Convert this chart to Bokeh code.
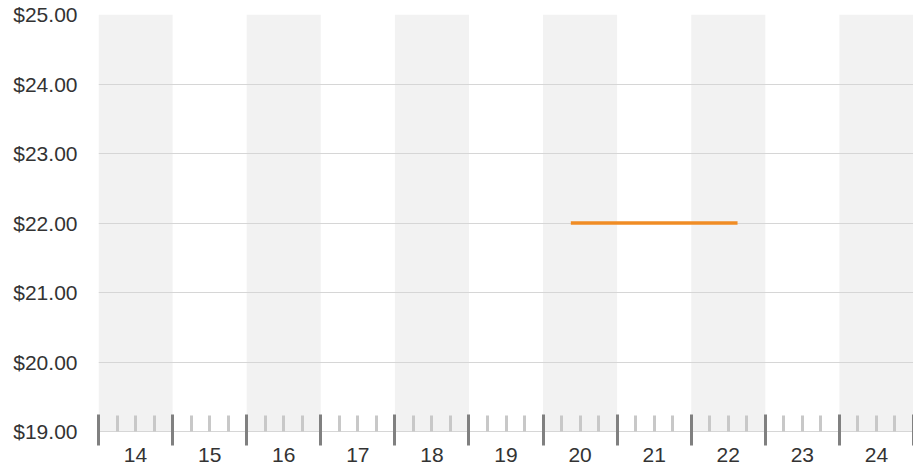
from bokeh.plotting import figure
from bokeh.models import (FixedTicker, LinearAxis, NumeralTickFormatter, Range1d,
                          ColumnDataSource)
from bokeh.embed import file_html
from bokeh.resources import INLINE

# ---- data ----
days = [14, 15, 16, 17, 18, 19, 20, 21, 22, 23, 24]
day_labels = ["14", "15", "16", "17", "18", "19", "20", "21", "22", "23", "24"]
shaded_days = [14, 16, 18, 20, 22, 24]
price_ticks = [19, 20, 21, 22, 23, 24, 25]
# line series: time in fractional days (day 20 09:00 -> day 22 15:00)
series_time = [20.375, 22.625]
series_price = [22.0, 22.0]

FONT = "Liberation Sans"
TEXT = "#333333"

x_start, x_end = days[0], days[-1] + 1
y_start, y_end = price_ticks[0], price_ticks[-1]

p = figure(width=913, height=464, output_backend="svg", toolbar_location=None,
           x_range=Range1d(x_start, x_end), y_range=Range1d(y_start, y_end),
           x_axis_location=None, y_axis_location="left",
           min_border_left=98, min_border_top=14, min_border_right=0, min_border_bottom=0)
p.outline_line_color = None
p.background_fill_color = "white"

# alternating day bands
band_src = ColumnDataSource(dict(
    left=shaded_days, right=[d + 1 for d in shaded_days],
    bottom=[y_start] * len(shaded_days), top=[y_end] * len(shaded_days)))
p.quad(left="left", right="right", bottom="bottom", top="top", source=band_src,
       fill_color="#f2f2f2", line_color=None, level="image")

# grid (drawn above the bands, below the line)
p.xgrid.visible = False
p.ygrid.ticker = FixedTicker(ticks=price_ticks)
p.ygrid.grid_line_color = "#d6d6d6"
p.ygrid.grid_line_width = 1
p.ygrid.level = "underlay"

# series line
p.line(series_time, series_price, line_color="#f08c24", line_width=3.5)

# y axis
ya = p.yaxis[0]
ya.ticker = FixedTicker(ticks=price_ticks)
ya.formatter = NumeralTickFormatter(format="$0.00")
ya.axis_line_color = None
ya.major_tick_line_color = None
ya.minor_tick_line_color = None
ya.major_label_standoff = 15
ya.major_label_text_font = FONT
ya.major_label_text_font_size = "21px"
ya.major_label_text_color = TEXT

# x axis A: tick marks (day boundaries + quarter-day minors)
boundaries = days + [days[-1] + 1]
quarters = [d + q for d in days for q in (0.25, 0.5, 0.75)]
xa = LinearAxis(ticker=FixedTicker(ticks=boundaries, minor_ticks=quarters))
xa.major_label_overrides = {b: "" for b in boundaries}
xa.major_label_text_font_size = "0px"
xa.major_label_standoff = 0
xa.axis_line_color = "#d6d6d6"
xa.major_tick_line_color = "#808080"
xa.major_tick_line_width = 3
xa.major_tick_in = 17
xa.major_tick_out = 14
xa.minor_tick_line_color = "#c8c8c8"
xa.minor_tick_line_width = 3
xa.minor_tick_in = 16
xa.minor_tick_out = 0
p.add_layout(xa, "below")

# x axis B: day labels centred in each day
mids = [d + 0.5 for d in days]
xb = LinearAxis(ticker=FixedTicker(ticks=mids, minor_ticks=[]))
xb.major_label_overrides = {m: lab for m, lab in zip(mids, day_labels)}
xb.axis_line_color = None
xb.major_tick_line_color = None
xb.minor_tick_line_color = None
xb.major_tick_in = 0
xb.major_tick_out = 0
xb.major_label_standoff = 2
xb.major_label_text_font = FONT
xb.major_label_text_font_size = "21px"
xb.major_label_text_color = TEXT
p.add_layout(xb, "below")

open("out.html", "w").write(file_html(p, INLINE))
